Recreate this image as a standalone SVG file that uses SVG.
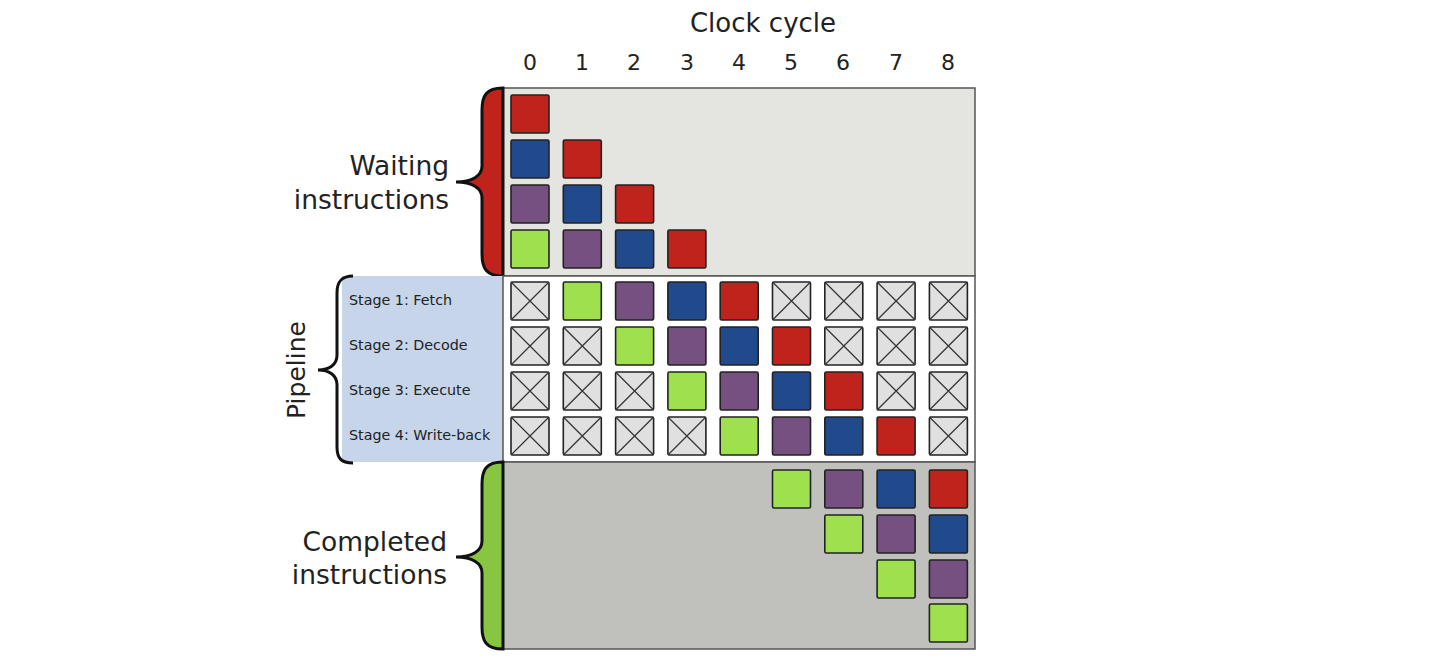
<svg xmlns="http://www.w3.org/2000/svg" xmlns:xlink="http://www.w3.org/1999/xlink" width="1440" height="668" viewBox="0 0 1440 668">
<style>
.t{font-family:"DejaVu Sans","Liberation Sans",sans-serif;fill:#222}
.s{font-family:"DejaVu Sans","Liberation Sans",sans-serif;font-size:14.3px;fill:#222}
.sq{stroke:#222;stroke-width:1.6}
.R{fill:#c0231c}.B{fill:#204a8b}.P{fill:#765080}.G{fill:#9fe04f}
.E{fill:#e0e0e0}
.x{stroke:#333;stroke-width:1.2}
</style>
<defs>
<g id="R"><rect class="sq R" x="0" y="0" width="38" height="38" rx="1.5"/></g>
<g id="B"><rect class="sq B" x="0" y="0" width="38" height="38" rx="1.5"/></g>
<g id="P"><rect class="sq P" x="0" y="0" width="38" height="38" rx="1.5"/></g>
<g id="G"><rect class="sq G" x="0" y="0" width="38" height="38" rx="1.5"/></g>
<g id="X"><rect class="sq E" x="0" y="0" width="38" height="38" rx="1.5"/><path class="x" d="M0,0L38,38M38,0L0,38"/></g>
</defs>
<rect width="1440" height="668" fill="#fff"/>
<g id="title">
<text class="t" x="763" y="32" font-size="26" text-anchor="middle">Clock cycle</text>
<g font-size="22" text-anchor="middle">
<text class="t" x="530" y="70">0</text><text class="t" x="582" y="70">1</text><text class="t" x="634" y="70">2</text><text class="t" x="687" y="70">3</text><text class="t" x="739" y="70">4</text><text class="t" x="791" y="70">5</text><text class="t" x="843" y="70">6</text><text class="t" x="896" y="70">7</text><text class="t" x="948" y="70">8</text>
</g>
</g>
<g id="waiting">
<rect x="503" y="88" width="472" height="188" fill="#e4e4e1" stroke="#555" stroke-width="1.5"/>
<path d="M503,88 C486,88 482,96 482,110 L482,166 C482,176 472,182 456,182 C472,182 482,188 482,198 L482,254 C482,268 486,276 503,276 Z" fill="#c0231c" stroke="#111" stroke-width="3"/>
<text class="t" font-size="26.5" text-anchor="end"><tspan x="449" y="175">Waiting</tspan><tspan x="449" y="209">instructions</tspan></text>
<use href="#R" x="511" y="95"/>
<use href="#B" x="511" y="140"/><use href="#R" x="563.3" y="140"/>
<use href="#P" x="511" y="185"/><use href="#B" x="563.3" y="185"/><use href="#R" x="615.6" y="185"/>
<use href="#G" x="511" y="230"/><use href="#P" x="563.3" y="230"/><use href="#B" x="615.6" y="230"/><use href="#R" x="667.9" y="230"/>
</g>
<g id="pipeline">
<rect x="342" y="276" width="161" height="186" fill="#c6d5ea"/>
<rect x="503" y="276" width="472" height="186" fill="#fff" stroke="#555" stroke-width="1.5"/>
<path d="M353,276 C341,276 337,282 337,293 L337,355 C337,365 329,370 318,370 C329,370 337,375 337,385 L337,447 C337,458 341,463 353,463" fill="none" stroke="#111" stroke-width="3"/>
<text class="t" font-size="25" text-anchor="middle" transform="translate(305,370) rotate(-90)">Pipeline</text>
<text class="s" x="349" y="305">Stage 1: Fetch</text>
<text class="s" x="349" y="350">Stage 2: Decode</text>
<text class="s" x="349" y="395">Stage 3: Execute</text>
<text class="s" x="349" y="440">Stage 4: Write-back</text>
<use href="#X" x="511" y="282"/><use href="#G" x="563.3" y="282"/><use href="#P" x="615.6" y="282"/><use href="#B" x="667.9" y="282"/><use href="#R" x="720.2" y="282"/><use href="#X" x="772.5" y="282"/><use href="#X" x="824.8" y="282"/><use href="#X" x="877.1" y="282"/><use href="#X" x="929.4" y="282"/>
<use href="#X" x="511" y="327"/><use href="#X" x="563.3" y="327"/><use href="#G" x="615.6" y="327"/><use href="#P" x="667.9" y="327"/><use href="#B" x="720.2" y="327"/><use href="#R" x="772.5" y="327"/><use href="#X" x="824.8" y="327"/><use href="#X" x="877.1" y="327"/><use href="#X" x="929.4" y="327"/>
<use href="#X" x="511" y="372"/><use href="#X" x="563.3" y="372"/><use href="#X" x="615.6" y="372"/><use href="#G" x="667.9" y="372"/><use href="#P" x="720.2" y="372"/><use href="#B" x="772.5" y="372"/><use href="#R" x="824.8" y="372"/><use href="#X" x="877.1" y="372"/><use href="#X" x="929.4" y="372"/>
<use href="#X" x="511" y="417"/><use href="#X" x="563.3" y="417"/><use href="#X" x="615.6" y="417"/><use href="#X" x="667.9" y="417"/><use href="#G" x="720.2" y="417"/><use href="#P" x="772.5" y="417"/><use href="#B" x="824.8" y="417"/><use href="#R" x="877.1" y="417"/><use href="#X" x="929.4" y="417"/>
</g>
<g id="completed">
<rect x="503" y="462" width="472" height="187" fill="#c0c0bc" stroke="#555" stroke-width="1.5"/>
<path d="M503,462 C486,462 482,470 482,484 L482,541 C482,551 472,557 456,557 C472,557 482,563 482,573 L482,627 C482,641 486,649 503,649 Z" fill="#88c540" stroke="#111" stroke-width="3"/>
<text class="t" font-size="26.5" text-anchor="end"><tspan x="447" y="551">Completed</tspan><tspan x="447" y="584">instructions</tspan></text>
<use href="#G" x="772.5" y="470"/><use href="#P" x="824.8" y="470"/><use href="#B" x="877.1" y="470"/><use href="#R" x="929.4" y="470"/>
<use href="#G" x="824.8" y="515"/><use href="#P" x="877.1" y="515"/><use href="#B" x="929.4" y="515"/>
<use href="#G" x="877.1" y="560"/><use href="#P" x="929.4" y="560"/>
<use href="#G" x="929.4" y="604"/>
</g>
</svg>
